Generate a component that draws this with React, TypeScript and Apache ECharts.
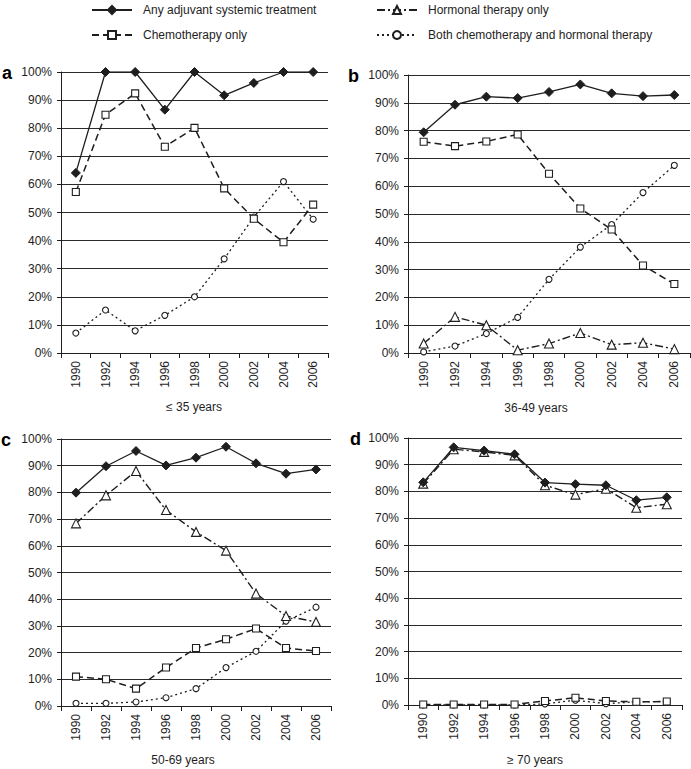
import React, { useEffect, useRef } from "react";
import * as echarts from "echarts";

const years = ["1990", "1992", "1994", "1996", "1998", "2000", "2002", "2004", "2006"];
const yTicks = [0, 10, 20, 30, 40, 50, 60, 70, 80, 90, 100];

const NAME_ANY = "Any adjuvant systemic treatment";
const NAME_CHEMO = "Chemotherapy only";
const NAME_HORM = "Hormonal therapy only";
const NAME_BOTH = "Both chemotherapy and hormonal therapy";

// Panel a: ≤ 35 years
const aAny = [64.1, 100, 100, 86.6, 100, 91.7, 96.1, 100, 100];
const aChemo = [57.3, 84.8, 92.4, 73.4, 80.1, 58.6, 47.8, 39.4, 52.8];
const aBoth = [7.1, 15.3, 7.9, 13.4, 20.0, 33.5, 48.4, 61.0, 47.6];

// Panel b: 36-49 years
const bAny = [79.4, 89.3, 92.2, 91.7, 93.9, 96.6, 93.4, 92.4, 92.8];
const bChemo = [76.0, 74.4, 76.1, 78.6, 64.5, 52.0, 44.4, 31.5, 24.8];
const bHorm = [3.4, 13.0, 10.0, 1.0, 3.4, 7.2, 3.0, 3.7, 1.4];
const bBoth = [0.4, 2.5, 7.0, 12.8, 26.5, 38.1, 46.2, 57.7, 67.5];

// Panel c: 50-69 years
const cAny = [79.9, 89.8, 95.5, 90.1, 93.0, 97.1, 90.9, 87.0, 88.6];
const cHorm = [68.4, 78.9, 88.0, 73.4, 65.2, 58.2, 42.1, 33.7, 31.5];
const cChemo = [11.0, 10.0, 6.5, 14.4, 21.7, 25.0, 29.0, 21.7, 20.6];
const cBoth = [1.0, 1.0, 1.5, 3.1, 6.5, 14.4, 20.5, 31.8, 37.0];

// Panel d: ≥ 70 years
const dAny = [83.4, 96.5, 95.3, 93.9, 83.3, 82.7, 82.3, 76.7, 77.8];
const dHorm = [82.9, 95.8, 94.8, 93.5, 82.3, 78.8, 81.0, 73.9, 75.2];
const dChemo = [0.2, 0.2, 0.2, 0.2, 1.5, 2.7, 1.5, 1.2, 1.3];
const dBoth = [0, 0, 0, 0, 0.4, 1.8, 0.5, 1.2, 1.3];

const panelTitles = ["≤ 35 years", "36-49 years", "50-69 years", "≥ 70 years"];
const panelLetters = ["a", "b", "c", "d"];

const INK = "#1e1e1e";
const FONT = "'Liberation Sans', Arial, sans-serif";

export default function App() {
  const ref = useRef<HTMLDivElement>(null);

  useEffect(() => {
    document.body.style.margin = "0";
    if (!ref.current) return;
    const chart = echarts.init(ref.current, undefined, { renderer: "svg" });

    const grids = [
      { left: 61, top: 72, width: 267, height: 281 },
      { left: 408, top: 75, width: 282, height: 278 },
      { left: 61, top: 439, width: 270, height: 267 },
      { left: 408, top: 438, width: 274, height: 267 },
    ];

    const styleOf: Record<string, any> = {
      [NAME_ANY]: {
        symbol: "diamond",
        symbolSize: 9,
        lineStyle: { color: INK, width: 1.3, type: "solid" },
        itemStyle: { color: INK, borderColor: INK, borderWidth: 1 },
        z: 5,
      },
      [NAME_CHEMO]: {
        symbol: "rect",
        symbolSize: 7,
        lineStyle: { color: INK, width: 1.5, type: [7, 4] },
        itemStyle: { color: "#fff", borderColor: INK, borderWidth: 1.1 },
        z: 4,
      },
      [NAME_HORM]: {
        symbol: "triangle",
        symbolSize: 9,
        lineStyle: { color: INK, width: 1.4, type: [8, 3, 2, 3] },
        itemStyle: { color: "#fff", borderColor: INK, borderWidth: 1.1 },
        z: 3,
      },
      [NAME_BOTH]: {
        symbol: "circle",
        symbolSize: 6,
        lineStyle: { color: INK, width: 1.3, type: [2, 3] },
        itemStyle: { color: "#fff", borderColor: INK, borderWidth: 1.1 },
        z: 2,
      },
    };

    const panels: [string, number[]][][] = [
      [[NAME_BOTH, aBoth], [NAME_CHEMO, aChemo], [NAME_ANY, aAny]],
      [[NAME_BOTH, bBoth], [NAME_HORM, bHorm], [NAME_CHEMO, bChemo], [NAME_ANY, bAny]],
      [[NAME_BOTH, cBoth], [NAME_CHEMO, cChemo], [NAME_HORM, cHorm], [NAME_ANY, cAny]],
      [[NAME_BOTH, dBoth], [NAME_CHEMO, dChemo], [NAME_HORM, dHorm], [NAME_ANY, dAny]],
    ];

    const series: any[] = [];
    panels.forEach((list, gi) => {
      list.forEach(([name, data]) => {
        const s = styleOf[name];
        series.push({
          type: "line",
          name,
          xAxisIndex: gi,
          yAxisIndex: gi,
          data,
          symbol: s.symbol,
          symbolSize: s.symbolSize,
          showSymbol: true,
          lineStyle: s.lineStyle,
          itemStyle: s.itemStyle,
          z: s.z,
          emphasis: { disabled: true },
        });
      });
    });

    const xAxes = grids.map((_, gi) => ({
      type: "category",
      gridIndex: gi,
      data: years,
      boundaryGap: true,
      axisLine: { show: true, lineStyle: { color: INK, width: 1 } },
      axisTick: { show: true, length: 5, lineStyle: { color: INK } },
      axisLabel: {
        rotate: 90,
        interval: 0,
        margin: 8,
        color: INK,
        fontSize: 12,
        fontFamily: FONT,
      },
      splitLine: { show: false },
    }));

    const yAxes = grids.map((_, gi) => ({
      type: "value",
      gridIndex: gi,
      min: yTicks[0],
      max: yTicks[yTicks.length - 1],
      interval: 10,
      axisLine: { show: true, lineStyle: { color: INK, width: 1 } },
      axisTick: { show: true, length: 4, lineStyle: { color: INK } },
      axisLabel: {
        formatter: "{value}%",
        margin: 9,
        color: INK,
        fontSize: 12,
        fontFamily: FONT,
      },
      splitLine: { show: true, lineStyle: { color: "#2a2a2a", width: 1 } },
    }));

    const legendPos = [
      { name: NAME_ANY, left: 91, top: 4 },
      { name: NAME_CHEMO, left: 91, top: 29 },
      { name: NAME_HORM, left: 376, top: 4 },
      { name: NAME_BOTH, left: 376, top: 29 },
    ];
    const legends = legendPos.map((p) => ({
      data: [p.name],
      left: p.left,
      top: p.top,
      padding: 0,
      itemWidth: 40,
      itemHeight: 10,
      selectedMode: false,
      textStyle: {
        color: INK,
        fontSize: 12,
        fontFamily: FONT,
        padding: [0, 0, 0, 6],
      },
    }));

    const titlePos = [
      { x: 194, y: 407 },
      { x: 536, y: 408 },
      { x: 183, y: 760 },
      { x: 535, y: 760 },
    ];
    const letterPos = [
      { x: 2, y: 73 },
      { x: 348, y: 76 },
      { x: 1, y: 440 },
      { x: 350, y: 439 },
    ];

    const graphics: any[] = [];
    titlePos.forEach((p, i) => {
      graphics.push({
        type: "text",
        x: p.x,
        y: p.y,
        style: {
          text: panelTitles[i],
          fill: INK,
          font: `12px ${FONT}`,
          textAlign: "center",
          textVerticalAlign: "middle",
        },
      });
    });
    letterPos.forEach((p, i) => {
      graphics.push({
        type: "text",
        x: p.x,
        y: p.y,
        style: {
          text: panelLetters[i],
          fill: "#000",
          font: `bold 18px ${FONT}`,
          textAlign: "left",
          textVerticalAlign: "middle",
        },
      });
    });

    chart.setOption({
      animation: false,
      backgroundColor: "#fff",
      grid: grids,
      xAxis: xAxes,
      yAxis: yAxes,
      legend: legends,
      series,
      graphic: graphics,
    });

    return () => chart.dispose();
  }, []);

  return <div ref={ref} style={{ width: 691, height: 769 }} />;
}
